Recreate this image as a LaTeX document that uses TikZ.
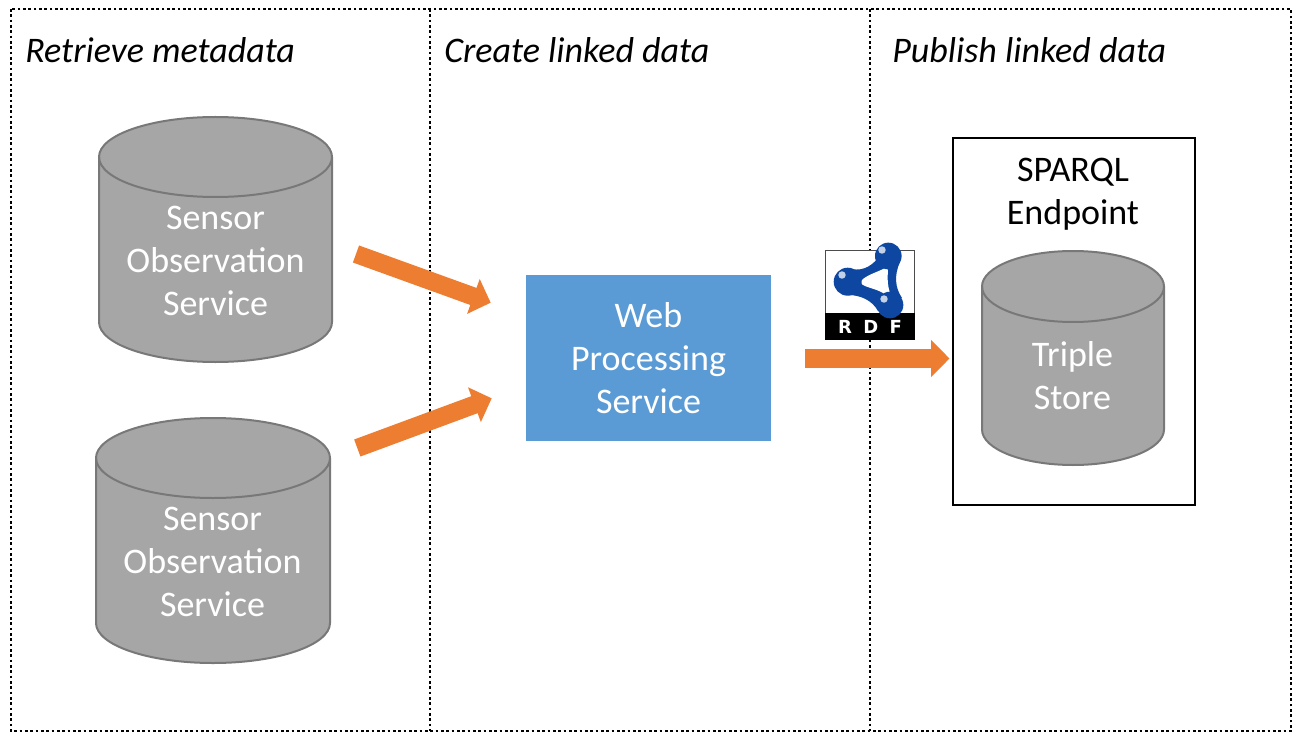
\documentclass[tikz,border=0pt]{standalone}
\usepackage{fontspec}
\setmainfont{Carlito}
\newfontfamily\rdffont{DejaVu Sans}
\usetikzlibrary{arrows.meta,shapes.geometric}
\definecolor{cylfill}{HTML}{A6A6A6}
\definecolor{cylline}{HTML}{787878}
\definecolor{wpsblue}{HTML}{5B9BD5}
\definecolor{flow}{HTML}{ED7D31}
\definecolor{rdfblue}{HTML}{0D47A1}
\tikzset{
  x=0.75pt,y=-0.75pt,
  panel/.style={draw=black,line width=1.5pt,dash pattern=on 2pt off 2pt},
  lbl/.style={font=\fontsize{27}{32.25}\selectfont,align=center,inner sep=0pt},
  ttl/.style={lbl,font=\fontsize{27}{32.25}\selectfont\itshape,anchor=base west},
  cyllabel/.style={lbl,text=white},
  flowarrow/.style={draw=flow,line width=13.6pt,-{Triangle[length=13.8pt,width=27pt,fill=flow]}},
  cyl/.style={fill=cylfill,draw=cylline,line width=1.5pt},
  shine/.style={fill=white!75!rdfblue},
}
\newcommand{\cylinder}[5]{% xl xr ytop ybot ry
  \path[cyl] (#1,#3+#5) arc[start angle=180,end angle=0,x radius={(#2-#1)/2*0.75pt},y radius={#5*0.75pt}]
     -- (#2,#4-#5) arc[start angle=0,end angle=-180,x radius={(#2-#1)/2*0.75pt},y radius={#5*0.75pt}] -- cycle;
  \draw[cylline,line width=1.5pt] (#1,#3+#5) arc[start angle=180,end angle=360,x radius={(#2-#1)/2*0.75pt},y radius={#5*0.75pt}];
}
\begin{document}
\begin{tikzpicture}
\useasboundingbox (0,0) rectangle (1299,738);
\fill[white] (0,0) rectangle (1299,738);
% panels
\draw[panel] (11,9) rectangle (1291,731);
\draw[panel] (430,9) -- (430,731);
\draw[panel] (870,9) -- (870,731);
\node[ttl] (t1) at (25,62.5) {Retrieve metadata};
\node[ttl] (t2) at (444,62.5) {Create linked data};
\node[ttl] (t3) at (892,62.5) {Publish linked data};
% cylinders
\cylinder{99}{332}{117}{362}{40}
\node[cyllabel] (sos1) at (215.5,261) {Sensor\\Observation\\Service};
\cylinder{96}{330}{418}{663}{40}
\node[cyllabel] (sos2) at (212.5,562) {Sensor\\Observation\\Service};
% wps
\node[fill=wpsblue,minimum width=183.75pt,minimum height=124.5pt,inner sep=0pt,lbl,text=white] (wps) at (648.5,358) {Web\\Processing\\Service};
% sparql
\node[draw=black,line width=1.5pt,minimum width=181.5pt,minimum height=275.25pt,inner sep=0pt] (sparql) at (1074,321.5) {};
\node[lbl] (ep) at (1073,194.5) {SPARQL\\Endpoint};
\cylinder{982}{1164}{251}{465}{35.5}
\node[cyllabel] (ts) at (1072.5,376) {Triple\\Store};
% RDF icon
\fill[white] (825,250) rectangle (915,340);
\draw[black!70,line width=0.75pt] (825.5,250.5) -- (914.5,250.5) -- (914.5,339.5) -- (825.5,339.5) -- cycle;
\node[fill=black,minimum width=67.5pt,minimum height=20.25pt,inner sep=0pt,text=white,font=\fontsize{13.5}{13.5}\selectfont\rdffont\bfseries] (rdf) at (870,326.5) {R\hspace{8.5pt}D\hspace{8.5pt}F};
\fill[rdfblue] (847.7,268) .. controls (860,272) and (870,268) .. (878,258) -- (888,256) -- (900,262) .. controls (894,275) and (895,288) .. (902,298) -- (890,305) -- (878,311) .. controls (872,300) and (860,295) .. (848,295) -- cycle;
\fill[white] (861,281) .. controls (866,275) and (878,272) .. (885,268) .. controls (888,267) and (888,270) .. (888,272) .. controls (887,280) and (888,287) .. (890,293) .. controls (891,296) and (888,296) .. (886,295) .. controls (878,289) and (868,288) .. (863,285) .. controls (861,284) and (860,282) .. (861,281) -- cycle;
\fill[rdfblue] (847.7,281.7) circle[radius=10.5pt];
\fill[rdfblue] (888.3,256) circle[radius=10pt];
\fill[rdfblue] (890,305) circle[radius=10pt];
\fill[shine] (842,275) circle[radius=2.8pt];
\fill[shine] (882,250) circle[radius=2.8pt];
\fill[shine] (884,299) circle[radius=2.8pt];
% arrows
\coordinate (a1s) at (356,254);
\coordinate (a1e) at (490.7,302.7);
\coordinate (a2s) at (357.3,448);
\coordinate (a2e) at (491.7,398.3);
\coordinate (a3s) at (805,358.5);
\coordinate (a3e) at (949.5,358.5);
\draw[flowarrow] (a1s) -- (a1e);
\draw[flowarrow] (a2s) -- (a2e);
\draw[flowarrow] (a3s) -- (a3e);
\end{tikzpicture}
\end{document}
